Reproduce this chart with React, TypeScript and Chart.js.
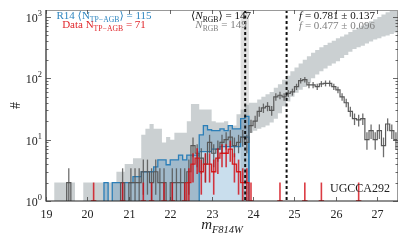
import React, { useEffect, useRef } from "react";
import { Chart, registerables } from "chart.js";

Chart.register(...registerables);

// ---------- data ----------
const binStart = 19.0;
const binWidth = 0.1;
const xMin = 19;
const xMax = 27.5;
const yMin = 1;
const yMax = 1300;
// empty bins are drawn just below the log axis (log scale cannot show 0)
const emptyBinValue = 0.3;

const xTickValues = [19, 20, 21, 22, 23, 24, 25, 26, 27];
const xTickLabels = ["19", "20", "21", "22", "23", "24", "25", "26", "27"];
const yTickValues = [1, 10, 100, 1000];
const yTickExponents = ["0", "1", "2", "3"];

// observed total counts per 0.1 mag bin (19.0 ... 27.4)
const dataTotal = [
  0, 0, 0, 0, 0, 2, 0, 0, 0, 0,
  0, 0, 0, 0, 0, 0, 0, 0, 2, 0,
  2, 2, 2, 3, 3, 2, 3, 2, 2, 0,
  2, 2, 2, 2, 3, 8, 6, 5, 4, 9,
  6, 7, 9, 10, 11, 8, 9, 11, 9, 17,
  20, 29, 33, 35, 30, 50, 53, 50, 57, 60,
  73, 92, 95, 78, 78, 73, 81, 83, 83, 73,
  65, 50, 40, 29, 22, 21, 22, 10, 14, 10,
  14, 8, 18, 14, 10,
];

// observed TP-AGB counts
const dataTPAGB = [
  0, 0, 0, 0, 0, 0, 0, 0, 0, 0,
  0, 1, 0, 0, 0, 0, 0, 0, 1, 0,
  0, 0, 0, 1, 0, 1, 0, 0, 1, 0,
  1, 0, 0, 1, 2, 4, 5, 3, 4, 4,
  3, 5, 6, 6, 7, 4, 3, 2, 2, 1,
  0, 0, 0, 0, 0, 0, 1, 0, 0, 0,
  0, 0, 1, 0, 0, 0, 1, 0, 0, 0,
  0, 0, 0, 0, 0, 1, 0, 0, 0, 0,
  0, 0, 0, 0, 0,
];

// R14 model TP-AGB range (upper / lower edge)
const modelTPAGBHigh = [
  0, 0, 0, 0, 0, 0, 0, 0, 0, 0,
  0, 0, 0, 0, 2, 0, 2, 2, 2, 2,
  2, 2.5, 2.5, 3, 3, 3, 3.6, 4.7, 4.7, 3.9,
  4.7, 4.7, 5.6, 4.7, 5.6, 5.6, 5.6, 12, 17, 14.5,
  14, 14, 15, 14, 17, 15, 15, 22, 24, 0,
  0, 0, 0, 0, 0, 0, 0, 0, 0, 0,
  0, 0, 0, 0, 0, 0, 0, 0, 0, 0,
  0, 0, 0, 0, 0, 0, 0, 0, 0, 0,
  0, 0, 0, 0, 0,
];
const modelTPAGBLow = [
  0, 0, 0, 0, 0, 0, 0, 0, 0, 0,
  0, 0, 0, 0, 0, 0, 0, 0, 0, 0,
  0, 0, 0, 0, 0, 0, 0, 0, 0, 0,
  0, 0, 0, 0, 0, 0, 0, 6.4, 6.4, 6.4,
  7, 7, 7.7, 7.7, 7.7, 7.7, 7.7, 11, 11, 0,
  0, 0, 0, 0, 0, 0, 0, 0, 0, 0,
  0, 0, 0, 0, 0, 0, 0, 0, 0, 0,
  0, 0, 0, 0, 0, 0, 0, 0, 0, 0,
  0, 0, 0, 0, 0,
];

// R14 model total range (upper / lower edge)
const modelTotalHigh = [
  0, 0, 2, 2, 2, 2, 2, 0, 0, 2,
  2, 2, 2, 2, 2, 2, 2, 3, 3, 4,
  4, 5, 5, 12, 15, 18, 15, 15, 9, 11,
  10, 13, 13, 13, 20, 38, 38, 31, 31, 31,
  20, 19, 19, 20, 17, 17, 26, 31, 37, 40,
  40, 45, 50, 55, 60, 70, 80, 95, 110, 130,
  150, 175, 200, 230, 260, 290, 320, 350, 380, 410,
  450, 480, 520, 570, 620, 670, 720, 780, 850, 920,
  1000, 1100, 1200, 1350, 1500,
];
const modelTotalLow = [
  0, 0, 0, 0, 0, 0, 0, 0, 0, 0,
  0, 0, 0, 0, 0, 0, 0, 0, 0, 0,
  0, 0, 0, 0, 0, 0, 0, 0, 0, 0,
  0, 0, 0, 0, 0, 0, 0, 6.4, 6.4, 6.4,
  7, 7, 7.7, 7.7, 7.7, 7.7, 7.7, 11, 11, 13,
  14, 15, 16, 17, 19, 22, 27, 35, 42, 50,
  58, 65, 72, 85, 100, 115, 130, 145, 160, 175,
  190, 215, 240, 270, 300, 320, 340, 370, 400, 430,
  450, 480, 500, 530, 560,
];

const trgbMag = 23.81;
const trgbErrLow = 23.7;
const trgbErrHigh = 23.9;
const cutMag = 24.81;

const galaxyName = "UGCCA292";
const modelLabelPrefix = "R14 ⟨N";
const modelLabelSub = "TP−AGB";
const modelLabelSuffix = "⟩ = 115";
const dataLabelPrefix = "Data N";
const dataLabelSuffix = " = 71";
const rgbModelSuffix = "⟩ = 147";
const rgbDataSuffix = " = 149";
const fModel = " = 0.781 ± 0.137";
const fData = " = 0.477 ± 0.096";

// ---------- helpers ----------
const FONT = '"Liberation Serif", "DejaVu Serif", serif';

type Seg = { t: string; s?: "sub" | "sup"; it?: boolean };

function segFont(seg: Seg, size: number) {
  const sz = seg.s ? size * 0.7 : size;
  return `${seg.it ? "italic " : ""}${sz}px ${FONT}`;
}

function drawRich(
  ctx: CanvasRenderingContext2D,
  segs: Seg[],
  x: number,
  y: number,
  size: number,
  color: string,
  align: "left" | "center" | "right"
) {
  ctx.save();
  ctx.textBaseline = "alphabetic";
  ctx.textAlign = "left";
  ctx.fillStyle = color;
  let total = 0;
  const widths = segs.map((s) => {
    ctx.font = segFont(s, size);
    const w = ctx.measureText(s.t).width;
    total += w;
    return w;
  });
  let cx = align === "left" ? x : align === "center" ? x - total / 2 : x - total;
  segs.forEach((s, i) => {
    ctx.font = segFont(s, size);
    const dy = s.s === "sub" ? size * 0.28 : s.s === "sup" ? -size * 0.42 : 0;
    ctx.fillText(s.t, cx, y + dy);
    cx += widths[i];
  });
  ctx.restore();
}

function stepPoints(values: number[]) {
  const pts = values.map((v, i) => ({ x: binStart + i * binWidth, y: v > 0 ? v : emptyBinValue }));
  const last = values[values.length - 1];
  pts.push({ x: binStart + values.length * binWidth, y: last > 0 ? last : emptyBinValue });
  return pts;
}

const decorPlugin = {
  id: "decor",
  beforeDatasetsDraw(chart: any) {
    const { ctx, chartArea: a, scales } = chart;
    const x = scales.x;
    ctx.save();
    ctx.fillStyle = "rgba(205,205,205,0.6)";
    const x0 = x.getPixelForValue(trgbErrLow);
    const x1 = x.getPixelForValue(trgbErrHigh);
    ctx.fillRect(x0, a.top, x1 - x0, a.bottom - a.top);
    ctx.restore();
  },
  afterDatasetsDraw(chart: any) {
    const { ctx, chartArea: a, scales } = chart;
    const x = scales.x;
    const y = scales.y;
    ctx.save();
    ctx.beginPath();
    ctx.rect(a.left, a.top, a.right - a.left, a.bottom - a.top);
    ctx.clip();

    const drawErr = (vals: number[], color: string, lw: number) => {
      ctx.strokeStyle = color;
      ctx.lineWidth = lw;
      vals.forEach((v, i) => {
        if (v <= 0) return;
        const e = Math.sqrt(v);
        const xc = x.getPixelForValue(binStart + (i + 0.5) * binWidth);
        const lo = v - e <= 0 ? a.bottom : y.getPixelForValue(v - e);
        const hi = y.getPixelForValue(v + e);
        ctx.beginPath();
        ctx.moveTo(xc, lo);
        ctx.lineTo(xc, hi);
        ctx.stroke();
      });
    };
    drawErr(dataTotal, "rgba(85,85,85,0.85)", 1.3);
    drawErr(dataTPAGB, "rgba(210,10,20,0.8)", 1.6);

    ctx.strokeStyle = "#111";
    ctx.lineWidth = 2;
    ctx.setLineDash([3, 2.5]);
    [trgbMag, cutMag].forEach((m) => {
      const px = x.getPixelForValue(m);
      ctx.beginPath();
      ctx.moveTo(px, a.top);
      ctx.lineTo(px, a.bottom);
      ctx.stroke();
    });
    ctx.restore();
  },
  afterDraw(chart: any) {
    const { ctx, chartArea: a, scales } = chart;
    const x = scales.x;
    const y = scales.y;
    ctx.save();
    // frame
    ctx.lineWidth = 1;
    ctx.strokeStyle = "#999";
    ctx.beginPath();
    ctx.moveTo(a.left, a.top + 0.5);
    ctx.lineTo(a.right, a.top + 0.5);
    ctx.moveTo(a.right - 0.5, a.top);
    ctx.lineTo(a.right - 0.5, a.bottom);
    ctx.stroke();
    ctx.strokeStyle = "#222";
    ctx.lineWidth = 1.2;
    ctx.beginPath();
    ctx.moveTo(a.left, a.top);
    ctx.lineTo(a.left, a.bottom);
    ctx.lineTo(a.right, a.bottom);
    ctx.stroke();

    // x ticks
    ctx.lineWidth = 0.8;
    ctx.strokeStyle = "#444";
    xTickValues.forEach((v, i) => {
      const px = Math.round(x.getPixelForValue(v)) + 0.5;
      ctx.beginPath();
      ctx.moveTo(px, a.bottom);
      ctx.lineTo(px, a.bottom - 4);
      ctx.moveTo(px, a.top);
      ctx.lineTo(px, a.top + 4);
      ctx.stroke();
      drawRich(ctx, [{ t: xTickLabels[i] }], px, a.bottom + 17, 12, "#222", "center");
    });
    // y ticks
    yTickValues.forEach((v, i) => {
      const py = Math.round(y.getPixelForValue(v)) + 0.5;
      ctx.beginPath();
      ctx.moveTo(a.left, py);
      ctx.lineTo(a.left + 5, py);
      ctx.moveTo(a.right, py);
      ctx.lineTo(a.right - 5, py);
      ctx.stroke();
      drawRich(ctx, [{ t: "10" }, { t: yTickExponents[i], s: "sup" }], a.left - 4, py + 4, 12, "#222", "right");
      for (let k = 2; k <= 9; k++) {
        const mv = v * k;
        if (mv > yMax) break;
        const my = Math.round(y.getPixelForValue(mv)) + 0.5;
        ctx.beginPath();
        ctx.moveTo(a.left, my);
        ctx.lineTo(a.left + 2.5, my);
        ctx.moveTo(a.right, my);
        ctx.lineTo(a.right - 2.5, my);
        ctx.stroke();
      }
    });

    // axis titles
    drawRich(ctx, [{ t: "m", it: true }, { t: "F814W", s: "sub", it: true }], (a.left + a.right) / 2, a.bottom + 28, 15, "#222", "center");
    ctx.save();
    ctx.translate(15, (a.top + a.bottom) / 2);
    ctx.rotate(-Math.PI / 2);
    drawRich(ctx, [{ t: "#" }], 0, 5, 14, "#222", "center");
    ctx.restore();

    // annotations
    drawRich(ctx, [{ t: modelLabelPrefix }, { t: modelLabelSub, s: "sub" }, { t: modelLabelSuffix }], 104, 19, 11, "#2f86c0", "center");
    drawRich(ctx, [{ t: dataLabelPrefix }, { t: modelLabelSub, s: "sub" }, { t: dataLabelSuffix }], 104, 28, 11, "#e0262b", "center");
    drawRich(ctx, [{ t: "⟨" }, { t: "N", it: true }, { t: "RGB", s: "sub" }, { t: rgbModelSuffix }], 221, 19, 11, "#111", "center");
    drawRich(ctx, [{ t: "N", it: true }, { t: "RGB", s: "sub" }, { t: rgbDataSuffix }], 221, 28, 11, "#808080", "center");
    drawRich(ctx, [{ t: "f", it: true }, { t: fModel }], 337, 19, 11, "#111", "center");
    drawRich(ctx, [{ t: "f", it: true }, { t: fData }], 337, 29, 11, "#808080", "center");
    drawRich(ctx, [{ t: galaxyName }], 390, 192, 12, "#222", "right");
    ctx.restore();
  },
};

export default function App() {
  const ref = useRef<HTMLCanvasElement | null>(null);
  useEffect(() => {
    if (!ref.current) return;
    const line = (values: number[], extra: any) => ({
      data: stepPoints(values),
      stepped: true,
      pointRadius: 0,
      borderWidth: 1.2,
      fill: false,
      ...extra,
    });
    const chart = new Chart(ref.current, {
      type: "line",
      data: {
        datasets: [
          line(dataTotal, { label: "data", borderColor: "#5a5a5a", borderWidth: 1.2, order: 1 }),
          line(dataTPAGB, { label: "data TP-AGB", borderColor: "#d62020", borderWidth: 1.3, order: 0 }),
          line(modelTPAGBHigh, {
            label: "R14 TP-AGB",
            borderColor: "#2c7fb8",
            borderWidth: 1.3,
            fill: "start",
            backgroundColor: "rgba(31,119,180,0.24)",
            order: 3,
          }),
          line(modelTPAGBLow, { label: "R14 TP-AGB low", borderColor: "#2c7fb8", borderWidth: 1.3, order: 2 }),
          line(modelTotalHigh, {
            label: "R14 total",
            borderWidth: 0,
            borderColor: "rgba(0,0,0,0)",
            fill: { target: 5 },
            backgroundColor: "rgba(140,150,156,0.45)",
            order: 5,
          }),
          line(modelTotalLow, { label: "R14 total low", borderWidth: 0, borderColor: "rgba(0,0,0,0)", order: 4 }),
        ],
      },
      options: {
        animation: false,
        responsive: false,
        devicePixelRatio: 1,
        layout: { padding: { top: 10, right: 9, left: 0, bottom: 0 } },
        plugins: { legend: { display: false }, tooltip: { enabled: false } },
        scales: {
          x: {
            type: "linear",
            min: xMin,
            max: xMax,
            ticks: { display: false },
            grid: { display: false },
            border: { display: false },
            afterFit: (s: any) => {
              s.height = 43;
            },
          },
          y: {
            type: "logarithmic",
            min: yMin,
            max: yMax,
            ticks: { display: false },
            grid: { display: false },
            border: { display: false },
            afterFit: (s: any) => {
              s.width = 46;
            },
          },
        },
      },
      plugins: [decorPlugin],
    } as any);
    return () => chart.destroy();
  }, []);
  return (
    <div style={{ position: "fixed", left: 0, top: 0, width: 407, height: 244, background: "#fff" }}>
      <canvas ref={ref} width={407} height={244} style={{ display: "block", width: 407, height: 244 }} />
    </div>
  );
}
